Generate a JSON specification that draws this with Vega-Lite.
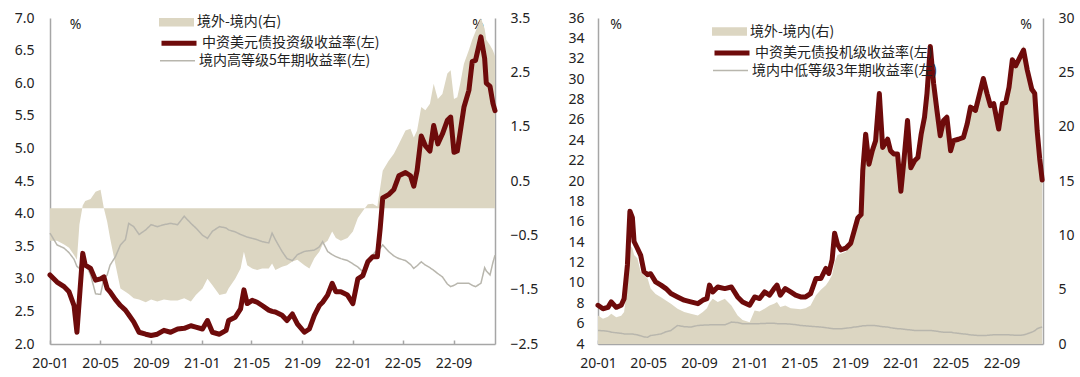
{
  "$schema": "https://vega.github.io/schema/vega-lite/v6.json",
  "padding": {"left": 14, "top": 4, "right": 0, "bottom": 0},
  "background": "white",
  "spacing": 29,
  "config": {
    "view": {"stroke": null},
    "axis": {"labelFont": "Noto Sans", "labelFontSize": 14, "labelColor": "#222222", "grid": false, "domainColor": "#a6a6a6", "domainWidth": 1.5, "titleFont": "Noto Sans", "titleFontSize": 14, "titleFontWeight": "normal", "titleColor": "#222222", "labelOverlap": false},
    "axisX": {"ticks": true, "tickSize": -4, "tickColor": "#a6a6a6", "tickWidth": 1.5, "labelPadding": 16, "labelFlush": false, "format": "%y-%m", "title": null},
    "axisY": {"ticks": false, "labelPadding": 16, "titleAngle": 0, "titleAlign": "center", "titleBaseline": "middle"},
    "legend": {"orient": "none", "title": null, "padding": 0, "symbolSize": 1225, "labelFont": "Noto Sans CJK SC", "labelFontSize": 14, "labelColor": "#222222", "labelLimit": 400, "labelOffset": 3, "symbolOpacity": 1}
  },
  "datasets": {
    "L": [
      {"date":"2020-01-01","usd":3.06,"cny":3.70,"gap":-0.6},
      {"date":"2020-01-18","usd":2.95,"cny":3.52,"gap":-0.6},
      {"date":"2020-02-04","usd":2.88,"cny":3.47,"gap":-0.67},
      {"date":"2020-02-16","usd":2.80,"cny":3.40,"gap":-0.73},
      {"date":"2020-02-28","usd":2.59,"cny":3.30,"gap":-0.86},
      {"date":"2020-03-06","usd":2.18,"cny":3.19,"gap":-0.95},
      {"date":"2020-03-12","usd":2.70,"cny":3.16,"gap":-0.3},
      {"date":"2020-03-20","usd":3.39,"cny":3.34,"gap":0.05},
      {"date":"2020-03-26","usd":3.21,"cny":3.25,"gap":0.13},
      {"date":"2020-04-08","usd":3.16,"cny":3.06,"gap":0.17},
      {"date":"2020-04-20","usd":2.98,"cny":2.77,"gap":0.3},
      {"date":"2020-05-02","usd":3.00,"cny":2.76,"gap":0.34},
      {"date":"2020-05-10","usd":3.03,"cny":3.00,"gap":0.0},
      {"date":"2020-05-18","usd":2.85,"cny":3.06,"gap":-0.25},
      {"date":"2020-05-25","usd":2.80,"cny":3.21,"gap":-0.55},
      {"date":"2020-06-07","usd":2.68,"cny":3.34,"gap":-1.04},
      {"date":"2020-06-19","usd":2.59,"cny":3.52,"gap":-1.48},
      {"date":"2020-07-01","usd":2.52,"cny":3.60,"gap":-1.54},
      {"date":"2020-07-09","usd":2.45,"cny":3.85,"gap":-1.58},
      {"date":"2020-07-21","usd":2.34,"cny":3.80,"gap":-1.66},
      {"date":"2020-08-03","usd":2.18,"cny":3.68,"gap":-1.68},
      {"date":"2020-08-19","usd":2.15,"cny":3.75,"gap":-1.73},
      {"date":"2020-09-01","usd":2.13,"cny":3.83,"gap":-1.68},
      {"date":"2020-09-16","usd":2.15,"cny":3.80,"gap":-1.72},
      {"date":"2020-10-02","usd":2.21,"cny":3.83,"gap":-1.68},
      {"date":"2020-10-18","usd":2.18,"cny":3.85,"gap":-1.7},
      {"date":"2020-11-04","usd":2.23,"cny":3.83,"gap":-1.7},
      {"date":"2020-11-20","usd":2.24,"cny":3.96,"gap":-1.66},
      {"date":"2020-12-06","usd":2.28,"cny":3.85,"gap":-1.72},
      {"date":"2020-12-18","usd":2.26,"cny":3.78,"gap":-1.6},
      {"date":"2021-01-03","usd":2.23,"cny":3.67,"gap":-1.48},
      {"date":"2021-01-15","usd":2.36,"cny":3.62,"gap":-1.3},
      {"date":"2021-01-27","usd":2.18,"cny":3.73,"gap":-1.42},
      {"date":"2021-02-13","usd":2.15,"cny":3.80,"gap":-1.6},
      {"date":"2021-03-01","usd":2.21,"cny":3.78,"gap":-1.57},
      {"date":"2021-03-07","usd":2.36,"cny":3.75,"gap":-1.48},
      {"date":"2021-03-23","usd":2.41,"cny":3.72,"gap":-1.3},
      {"date":"2021-04-05","usd":2.54,"cny":3.68,"gap":-1.11},
      {"date":"2021-04-13","usd":2.83,"cny":3.66,"gap":-0.8},
      {"date":"2021-04-21","usd":2.62,"cny":3.64,"gap":-1.05},
      {"date":"2021-05-03","usd":2.67,"cny":3.62,"gap":-1.11},
      {"date":"2021-05-15","usd":2.64,"cny":3.60,"gap":-1.14},
      {"date":"2021-05-27","usd":2.59,"cny":3.57,"gap":-1.11},
      {"date":"2021-06-12","usd":2.52,"cny":3.55,"gap":-1.11},
      {"date":"2021-06-20","usd":2.50,"cny":3.70,"gap":-1.02},
      {"date":"2021-06-28","usd":2.49,"cny":3.60,"gap":-1.14},
      {"date":"2021-07-14","usd":2.44,"cny":3.42,"gap":-1.08},
      {"date":"2021-07-26","usd":2.36,"cny":3.31,"gap":-1.05},
      {"date":"2021-08-08","usd":2.46,"cny":3.28,"gap":-0.98},
      {"date":"2021-08-20","usd":2.31,"cny":3.37,"gap":-0.95},
      {"date":"2021-09-06","usd":2.18,"cny":3.42,"gap":-1.05},
      {"date":"2021-09-18","usd":2.23,"cny":3.43,"gap":-1.11},
      {"date":"2021-09-30","usd":2.44,"cny":3.44,"gap":-0.92},
      {"date":"2021-10-12","usd":2.59,"cny":3.49,"gap":-0.8},
      {"date":"2021-10-20","usd":2.64,"cny":3.57,"gap":-0.67},
      {"date":"2021-11-01","usd":2.75,"cny":3.42,"gap":-0.6},
      {"date":"2021-11-12","usd":2.93,"cny":3.37,"gap":-0.43},
      {"date":"2021-11-21","usd":2.80,"cny":3.34,"gap":-0.55},
      {"date":"2021-12-03","usd":2.80,"cny":3.31,"gap":-0.6},
      {"date":"2021-12-19","usd":2.75,"cny":3.28,"gap":-0.55},
      {"date":"2022-01-01","usd":2.62,"cny":3.23,"gap":-0.43},
      {"date":"2022-01-13","usd":3.00,"cny":3.18,"gap":-0.18},
      {"date":"2022-01-25","usd":3.05,"cny":3.11,"gap":-0.05},
      {"date":"2022-02-06","usd":3.26,"cny":3.21,"gap":0.07},
      {"date":"2022-02-18","usd":3.34,"cny":3.37,"gap":0.08},
      {"date":"2022-03-01","usd":3.34,"cny":3.45,"gap":0.03},
      {"date":"2022-03-08","usd":3.78,"cny":3.47,"gap":0.38},
      {"date":"2022-03-14","usd":4.24,"cny":3.52,"gap":0.69},
      {"date":"2022-03-28","usd":4.29,"cny":3.42,"gap":0.87},
      {"date":"2022-04-10","usd":4.37,"cny":3.35,"gap":1.0},
      {"date":"2022-04-22","usd":4.58,"cny":3.31,"gap":1.18},
      {"date":"2022-05-08","usd":4.63,"cny":3.28,"gap":1.43},
      {"date":"2022-05-20","usd":4.58,"cny":3.22,"gap":1.46},
      {"date":"2022-05-28","usd":4.42,"cny":3.16,"gap":1.3},
      {"date":"2022-06-05","usd":4.66,"cny":3.20,"gap":1.43},
      {"date":"2022-06-15","usd":5.19,"cny":3.26,"gap":1.86},
      {"date":"2022-06-25","usd":5.04,"cny":3.21,"gap":1.8},
      {"date":"2022-07-06","usd":4.96,"cny":3.17,"gap":1.92},
      {"date":"2022-07-15","usd":5.35,"cny":3.13,"gap":2.29},
      {"date":"2022-07-25","usd":5.07,"cny":3.08,"gap":2.01},
      {"date":"2022-08-05","usd":5.22,"cny":3.03,"gap":2.1},
      {"date":"2022-08-17","usd":5.43,"cny":2.92,"gap":2.48},
      {"date":"2022-08-25","usd":5.48,"cny":2.88,"gap":2.54},
      {"date":"2022-09-02","usd":4.94,"cny":2.90,"gap":2.01},
      {"date":"2022-09-10","usd":4.96,"cny":2.93,"gap":2.04},
      {"date":"2022-09-17","usd":5.25,"cny":2.93,"gap":2.29},
      {"date":"2022-09-26","usd":5.63,"cny":2.93,"gap":2.66},
      {"date":"2022-10-08","usd":5.89,"cny":2.93,"gap":2.91},
      {"date":"2022-10-16","usd":6.33,"cny":2.90,"gap":3.1},
      {"date":"2022-10-24","usd":6.35,"cny":2.88,"gap":3.25},
      {"date":"2022-11-06","usd":6.71,"cny":2.93,"gap":3.5},
      {"date":"2022-11-15","usd":6.38,"cny":3.17,"gap":3.3},
      {"date":"2022-11-19","usd":6.00,"cny":3.12,"gap":3.1},
      {"date":"2022-11-28","usd":5.95,"cny":3.06,"gap":3.0},
      {"date":"2022-12-05","usd":5.69,"cny":3.25,"gap":2.9},
      {"date":"2022-12-10","usd":5.58,"cny":3.36,"gap":2.8}
    ],
    "R": [
      {"date":"2020-01-01","usd":7.8,"cny":5.33,"gap":2.63},
      {"date":"2020-01-13","usd":7.46,"cny":5.3,"gap":2.32},
      {"date":"2020-01-25","usd":7.6,"cny":5.25,"gap":2.5},
      {"date":"2020-02-02","usd":8.13,"cny":5.16,"gap":2.78},
      {"date":"2020-02-14","usd":7.6,"cny":5.1,"gap":2.47},
      {"date":"2020-02-26","usd":7.8,"cny":5.05,"gap":2.6},
      {"date":"2020-03-04","usd":8.45,"cny":4.99,"gap":2.94},
      {"date":"2020-03-12","usd":11.76,"cny":4.99,"gap":5.4},
      {"date":"2020-03-18","usd":17.03,"cny":4.99,"gap":9.1},
      {"date":"2020-03-24","usd":16.4,"cny":4.99,"gap":8.8},
      {"date":"2020-03-28","usd":14.06,"cny":4.95,"gap":8.2},
      {"date":"2020-04-05","usd":13.4,"cny":4.9,"gap":7.9},
      {"date":"2020-04-13","usd":12.7,"cny":4.8,"gap":6.65},
      {"date":"2020-04-21","usd":11.1,"cny":4.7,"gap":6.3},
      {"date":"2020-04-30","usd":10.8,"cny":4.66,"gap":6.0},
      {"date":"2020-05-07","usd":10.9,"cny":4.83,"gap":5.1},
      {"date":"2020-05-19","usd":10.1,"cny":4.9,"gap":4.6},
      {"date":"2020-06-01","usd":9.78,"cny":4.99,"gap":4.3},
      {"date":"2020-06-13","usd":9.44,"cny":5.2,"gap":4.0},
      {"date":"2020-06-25","usd":8.95,"cny":5.33,"gap":3.7},
      {"date":"2020-07-11","usd":8.62,"cny":5.82,"gap":3.25},
      {"date":"2020-07-27","usd":8.3,"cny":5.7,"gap":2.94},
      {"date":"2020-08-12","usd":8.13,"cny":5.66,"gap":2.78},
      {"date":"2020-08-29","usd":7.96,"cny":5.82,"gap":2.63},
      {"date":"2020-09-10","usd":8.3,"cny":5.85,"gap":2.94},
      {"date":"2020-09-20","usd":8.46,"cny":5.86,"gap":3.3},
      {"date":"2020-09-26","usd":9.78,"cny":5.88,"gap":3.8},
      {"date":"2020-10-04","usd":9.11,"cny":5.88,"gap":4.17},
      {"date":"2020-10-16","usd":9.6,"cny":5.88,"gap":3.87},
      {"date":"2020-11-02","usd":9.44,"cny":5.88,"gap":4.17},
      {"date":"2020-11-18","usd":9.6,"cny":6.15,"gap":3.55},
      {"date":"2020-12-03","usd":8.62,"cny":6.1,"gap":2.63},
      {"date":"2020-12-15","usd":8.13,"cny":5.99,"gap":2.2},
      {"date":"2021-01-01","usd":7.8,"cny":5.99,"gap":2.0},
      {"date":"2021-01-13","usd":8.62,"cny":5.99,"gap":3.09},
      {"date":"2021-01-25","usd":8.46,"cny":6.0,"gap":3.0},
      {"date":"2021-02-06","usd":9.11,"cny":6.02,"gap":3.25},
      {"date":"2021-02-18","usd":8.79,"cny":6.04,"gap":3.55},
      {"date":"2021-03-01","usd":9.44,"cny":6.04,"gap":3.7},
      {"date":"2021-03-08","usd":9.78,"cny":6.0,"gap":3.87},
      {"date":"2021-03-16","usd":8.79,"cny":5.99,"gap":3.4},
      {"date":"2021-03-28","usd":9.44,"cny":5.99,"gap":3.55},
      {"date":"2021-04-10","usd":9.11,"cny":5.95,"gap":3.3},
      {"date":"2021-04-22","usd":8.79,"cny":5.9,"gap":3.25},
      {"date":"2021-05-04","usd":8.62,"cny":5.82,"gap":3.2},
      {"date":"2021-05-16","usd":8.62,"cny":5.78,"gap":3.3},
      {"date":"2021-05-28","usd":8.95,"cny":5.74,"gap":3.55},
      {"date":"2021-06-10","usd":10.43,"cny":5.7,"gap":4.49},
      {"date":"2021-06-22","usd":10.43,"cny":5.66,"gap":5.0},
      {"date":"2021-07-04","usd":11.42,"cny":5.6,"gap":5.4},
      {"date":"2021-07-11","usd":10.92,"cny":5.56,"gap":5.8},
      {"date":"2021-07-19","usd":12.25,"cny":5.52,"gap":6.34},
      {"date":"2021-07-25","usd":14.88,"cny":5.49,"gap":7.5},
      {"date":"2021-08-01","usd":13.8,"cny":5.49,"gap":8.2},
      {"date":"2021-08-09","usd":13.24,"cny":5.49,"gap":8.3},
      {"date":"2021-08-21","usd":13.4,"cny":5.55,"gap":8.5},
      {"date":"2021-09-02","usd":13.9,"cny":5.6,"gap":9.13},
      {"date":"2021-09-10","usd":15.05,"cny":5.66,"gap":10.3},
      {"date":"2021-09-19","usd":16.37,"cny":5.7,"gap":11.6},
      {"date":"2021-09-27","usd":16.7,"cny":5.75,"gap":12.0},
      {"date":"2021-10-01","usd":21.0,"cny":5.78,"gap":15.3},
      {"date":"2021-10-08","usd":24.6,"cny":5.8,"gap":19.0},
      {"date":"2021-10-16","usd":21.65,"cny":5.82,"gap":16.6},
      {"date":"2021-10-24","usd":22.97,"cny":5.82,"gap":17.6},
      {"date":"2021-11-01","usd":23.96,"cny":5.8,"gap":18.4},
      {"date":"2021-11-10","usd":28.58,"cny":5.75,"gap":22.7},
      {"date":"2021-11-18","usd":23.3,"cny":5.7,"gap":18.4},
      {"date":"2021-11-30","usd":24.1,"cny":5.66,"gap":18.9},
      {"date":"2021-12-07","usd":22.97,"cny":5.6,"gap":17.9},
      {"date":"2021-12-15","usd":22.64,"cny":5.55,"gap":17.5},
      {"date":"2021-12-24","usd":22.64,"cny":5.5,"gap":17.5},
      {"date":"2022-01-01","usd":19.0,"cny":5.49,"gap":14.2},
      {"date":"2022-01-09","usd":22.3,"cny":5.45,"gap":17.2},
      {"date":"2022-01-17","usd":25.94,"cny":5.4,"gap":20.3},
      {"date":"2022-01-25","usd":21.3,"cny":5.38,"gap":16.0},
      {"date":"2022-02-03","usd":21.98,"cny":5.33,"gap":16.7},
      {"date":"2022-02-11","usd":22.3,"cny":5.33,"gap":17.0},
      {"date":"2022-02-19","usd":24.6,"cny":5.33,"gap":19.2},
      {"date":"2022-02-27","usd":26.26,"cny":5.33,"gap":20.8},
      {"date":"2022-03-05","usd":28.58,"cny":5.33,"gap":23.0},
      {"date":"2022-03-13","usd":33.2,"cny":5.33,"gap":27.5},
      {"date":"2022-03-21","usd":29.57,"cny":5.3,"gap":24.0},
      {"date":"2022-03-29","usd":26.93,"cny":5.25,"gap":21.5},
      {"date":"2022-04-06","usd":24.45,"cny":5.2,"gap":19.2},
      {"date":"2022-04-14","usd":25.94,"cny":5.16,"gap":20.6},
      {"date":"2022-04-22","usd":26.26,"cny":5.16,"gap":20.9},
      {"date":"2022-05-01","usd":22.97,"cny":5.16,"gap":17.8},
      {"date":"2022-05-08","usd":23.96,"cny":5.1,"gap":18.7},
      {"date":"2022-05-20","usd":24.1,"cny":5.05,"gap":18.9},
      {"date":"2022-06-01","usd":24.28,"cny":4.99,"gap":19.1},
      {"date":"2022-06-10","usd":25.6,"cny":4.95,"gap":20.3},
      {"date":"2022-06-18","usd":27.25,"cny":4.9,"gap":21.9},
      {"date":"2022-06-30","usd":26.93,"cny":4.85,"gap":21.6},
      {"date":"2022-07-12","usd":28.9,"cny":4.83,"gap":23.5},
      {"date":"2022-07-19","usd":30.06,"cny":4.83,"gap":24.6},
      {"date":"2022-07-28","usd":28.58,"cny":4.85,"gap":23.2},
      {"date":"2022-08-05","usd":27.4,"cny":4.88,"gap":22.1},
      {"date":"2022-08-13","usd":27.6,"cny":4.9,"gap":22.3},
      {"date":"2022-08-25","usd":25.1,"cny":4.9,"gap":19.9},
      {"date":"2022-09-03","usd":27.6,"cny":4.9,"gap":22.3},
      {"date":"2022-09-11","usd":27.7,"cny":4.9,"gap":22.4},
      {"date":"2022-09-19","usd":29.2,"cny":4.9,"gap":23.8},
      {"date":"2022-09-27","usd":31.9,"cny":4.88,"gap":26.4},
      {"date":"2022-10-05","usd":31.3,"cny":4.86,"gap":25.8},
      {"date":"2022-10-16","usd":32.2,"cny":4.85,"gap":26.6},
      {"date":"2022-10-24","usd":32.86,"cny":4.9,"gap":27.5},
      {"date":"2022-11-02","usd":30.9,"cny":5.0,"gap":25.5},
      {"date":"2022-11-13","usd":29.0,"cny":5.16,"gap":24.0},
      {"date":"2022-11-20","usd":28.6,"cny":5.3,"gap":23.3},
      {"date":"2022-11-26","usd":24.9,"cny":5.5,"gap":19.6},
      {"date":"2022-12-02","usd":22.2,"cny":5.6,"gap":17.0},
      {"date":"2022-12-08","usd":20.1,"cny":5.66,"gap":15.0}
    ]
  },
  "resolve": {"scale": {"fill": "independent", "stroke": "independent", "strokeDash": "independent"}, "legend": {"fill": "independent", "stroke": "independent", "strokeDash": "independent"}},
  "hconcat": [
    {
      "width": 445,
      "height": 326,
      "data": {"name": "L"},
      "encoding": {
        "x": {"field": "date", "type": "temporal",
          "scale": {"domain": [{"year": 2020, "month": 1, "date": 1}, {"year": 2022, "month": 12, "date": 10}]},
          "axis": {"values": [{"year": 2020, "month": 1, "date": 1}, {"year": 2020, "month": 5, "date": 1}, {"year": 2020, "month": 9, "date": 1}, {"year": 2021, "month": 1, "date": 1}, {"year": 2021, "month": 5, "date": 1}, {"year": 2021, "month": 9, "date": 1}, {"year": 2022, "month": 1, "date": 1}, {"year": 2022, "month": 5, "date": 1}, {"year": 2022, "month": 9, "date": 1}]}}
      },
      "layer": [
        {
          "mark": {"type": "area", "opacity": 1, "clip": true},
          "encoding": {
            "y": {"field": "gap", "type": "quantitative", "scale": {"domain": [-2.5, 3.5], "nice": false},
              "axis": {"orient": "right", "values": [-2.5, -1.5, -0.5, 0.5, 1.5, 2.5, 3.5], "format": ".1f", "labelPadding": 15, "title": "%", "titleX": -17.5, "titleY": 6}},
            "fill": {"datum": "境外-境内(右)", "type": "nominal", "scale": {"range": ["#dcd6c2"]},
              "legend": {"legendX": 109, "legendY": -13.2, "symbolType": "M-1,-0.24H1V0.24H-1Z", "symbolStrokeWidth": 0}}
          }
        },
        {
          "layer": [
            {
              "mark": {"type": "line", "strokeWidth": 1.5, "color": "#b8b6ad"},
              "encoding": {
                "y": {"field": "cny", "type": "quantitative", "scale": {"domain": [2, 7], "nice": false, "zero": false},
                  "axis": {"orient": "left", "values": [2, 2.5, 3, 3.5, 4, 4.5, 5, 5.5, 6, 6.5, 7], "format": ".1f", "title": "%", "titleX": 25, "titleY": 6}},
                "strokeDash": {"datum": "境内高等级5年期收益率(左)", "type": "nominal", "scale": {"range": [[1, 0]]},
                  "legend": {"legendX": 109, "legendY": 24.2, "symbolType": "stroke", "symbolStrokeColor": "#b8b6ad", "symbolStrokeWidth": 1.5}}
              }
            },
            {
              "mark": {"type": "line", "strokeWidth": 5, "strokeJoin": "round", "strokeCap": "round"},
              "encoding": {
                "y": {"field": "usd", "type": "quantitative", "scale": {"domain": [2, 7], "nice": false, "zero": false},
                  "axis": {"orient": "left", "values": [2, 2.5, 3, 3.5, 4, 4.5, 5, 5.5, 6, 6.5, 7], "format": ".1f", "title": "%", "titleX": 25, "titleY": 6}},
                "stroke": {"datum": "中资美元债投资级收益率(左)", "type": "nominal", "scale": {"range": ["#6e0b0b"]},
                  "legend": {"legendX": 109, "legendY": 5.2, "symbolType": "stroke", "symbolStrokeWidth": 5}}
              }
            }
          ]
        }
      ],
      "resolve": {"scale": {"y": "independent"}}
    },
    {
      "width": 445,
      "height": 326,
      "data": {"name": "R"},
      "encoding": {
        "x": {"field": "date", "type": "temporal",
          "scale": {"domain": [{"year": 2020, "month": 1, "date": 1}, {"year": 2022, "month": 12, "date": 10}]},
          "axis": {"values": [{"year": 2020, "month": 1, "date": 1}, {"year": 2020, "month": 5, "date": 1}, {"year": 2020, "month": 9, "date": 1}, {"year": 2021, "month": 1, "date": 1}, {"year": 2021, "month": 5, "date": 1}, {"year": 2021, "month": 9, "date": 1}, {"year": 2022, "month": 1, "date": 1}, {"year": 2022, "month": 5, "date": 1}, {"year": 2022, "month": 9, "date": 1}]}}
      },
      "layer": [
        {
          "mark": {"type": "area", "opacity": 1, "clip": true},
          "encoding": {
            "y": {"field": "gap", "type": "quantitative", "scale": {"domain": [0, 30], "nice": false},
              "axis": {"orient": "right", "values": [0, 5, 10, 15, 20, 25, 30], "format": "d", "labelPadding": 15, "title": "%", "titleX": -17.5, "titleY": 6}},
            "fill": {"datum": "境外-境内(右)", "type": "nominal", "scale": {"range": ["#dcd6c2"]},
              "legend": {"legendX": 114, "legendY": -4, "symbolType": "M-1,-0.24H1V0.24H-1Z", "symbolStrokeWidth": 0}}
          }
        },
        {
          "layer": [
            {
              "mark": {"type": "line", "strokeWidth": 1.5, "color": "#b8b6ad"},
              "encoding": {
                "y": {"field": "cny", "type": "quantitative", "scale": {"domain": [4, 36], "nice": false, "zero": false},
                  "axis": {"orient": "left", "values": [4, 6, 8, 10, 12, 14, 16, 18, 20, 22, 24, 26, 28, 30, 32, 34, 36], "format": "d", "labelPadding": 14, "title": "%", "titleX": 17.5, "titleY": 6}},
                "strokeDash": {"datum": "境内中低等级3年期收益率(左)", "type": "nominal", "scale": {"range": [[1, 0]]},
                  "legend": {"legendX": 114, "legendY": 34, "symbolType": "stroke", "symbolStrokeColor": "#b8b6ad", "symbolStrokeWidth": 1.5}}
              }
            },
            {
              "mark": {"type": "line", "strokeWidth": 5, "strokeJoin": "round", "strokeCap": "round"},
              "encoding": {
                "y": {"field": "usd", "type": "quantitative", "scale": {"domain": [4, 36], "nice": false, "zero": false},
                  "axis": {"orient": "left", "values": [4, 6, 8, 10, 12, 14, 16, 18, 20, 22, 24, 26, 28, 30, 32, 34, 36], "format": "d", "labelPadding": 14, "title": "%", "titleX": 17.5, "titleY": 6}},
                "stroke": {"datum": "中资美元债投机级收益率(左)", "type": "nominal", "scale": {"range": ["#6e0b0b"]},
                  "legend": {"legendX": 114, "legendY": 15, "symbolType": "stroke", "symbolStrokeWidth": 5}}
              }
            }
          ]
        }
      ],
      "resolve": {"scale": {"y": "independent"}}
    }
  ]
}
